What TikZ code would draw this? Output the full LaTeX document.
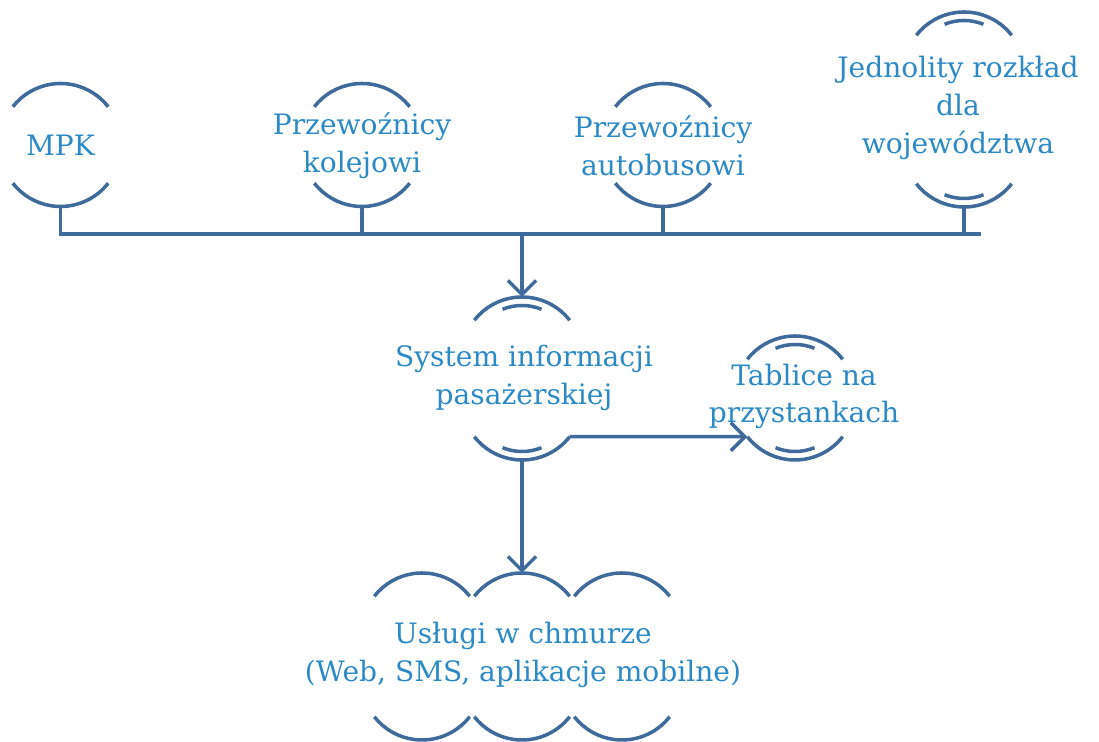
\documentclass[tikz,border=0pt]{standalone}
\usepackage{fontspec}
\setmainfont{DejaVu Serif}
\usepackage{xcolor}
\definecolor{sarc}{HTML}{3F6A9C}
\definecolor{stext}{HTML}{2B8AC6}
\usetikzlibrary{arrows.meta,positioning}
\tikzset{
  lbl/.style={align=center, text=stext, inner sep=0pt,
              font=\fontsize{16}{21.5}\selectfont},
  arcline/.style={draw=sarc, line width=2pt},
  bus/.style={draw=sarc, line width=2.2pt},
  ar/.style={-{Straight Barb[length=8pt,width=16pt]}, draw=sarc, line width=2pt},
  pics/ring/.style={code={
    \draw[arcline] ([shift={(0,#1)}]38:60.5) arc[start angle=38, end angle=142, radius=60.5];
    \draw[arcline] ([shift={(0,-#1)}]-38:60.5) arc[start angle=-38, end angle=-142, radius=60.5];
    \coordinate (-n) at (0,#1+60.5);
    \coordinate (-s) at (0,-#1-60.5);
    \coordinate (-e) at ([shift={(0,-#1)}]-38:60.5);
    \coordinate (-w) at ([shift={(0,-#1)}]-142:60.5);
  }},
  pics/inner/.style={code={
    \draw[arcline] ([shift={(0,#1)}]68:52) arc[start angle=68, end angle=112, radius=52];
    \draw[arcline] ([shift={(0,-#1)}]-68:52) arc[start angle=-68, end angle=-112, radius=52];
  }},
}
\begin{document}
\begin{tikzpicture}[x=0.02cm, y=0.02cm]
  \useasboundingbox (0,0) rectangle (1099,742);
  % sources
  \node[lbl] (mpk) at (60.5,597) {MPK};
  \node[lbl] (kolej) at (362,596) {Przewoźnicy\\kolejowi};
  \node[lbl] (autobus) at (663,596) {Przewoźnicy\\autobusowi};
  \node[lbl] (rozklad) at (958,634) {Jednolity rozkład\\dla\\województwa};
  \pic (mpkr) at (60.5,597) {ring=1};
  \pic (kolr) at (362,597) {ring=1};
  \pic (autr) at (663,597) {ring=1};
  \pic (rozr) at (964,632.5) {ring=37};
  \pic at (964,632.5) {inner=37};
  % system
  \node[lbl] (sip) at (524,364) {System informacji\\pasażerskiej};
  \pic (sipr) at (522,363.5) {ring=21};
  \pic at (522,363.5) {inner=21};
  \node[lbl] (tablice) at (804,345.5) {Tablice na\\przystankach};
  \pic (tabr) at (795,344) {ring=1.5};
  \pic at (795,344) {inner=1.5};
  % cloud
  \node[lbl] (chmura) at (523,87) {Usługi w chmurze\\(Web, SMS, aplikacje mobilne)};
  \pic (ch1) at (422,85.5) {ring=23};
  \pic (ch2) at (522,85.5) {ring=23};
  \pic (ch3) at (622,85.5) {ring=23};
  % connectors
  \coordinate (busend) at (981,508);
  \draw[bus] (mpkr-s) |- (busend);
  \draw[bus] (kolr-s) -- (kolr-s |- busend);
  \draw[bus] (autr-s) -- (autr-s |- busend);
  \draw[bus] (rozr-s) -- (rozr-s |- busend);
  \draw[ar] (sipr-n |- busend) -- (sipr-n);
  \draw[ar] (sipr-e) -- (tabr-w);
  \draw[ar] (sipr-s) -- (ch2-n);
\end{tikzpicture}
\end{document}
